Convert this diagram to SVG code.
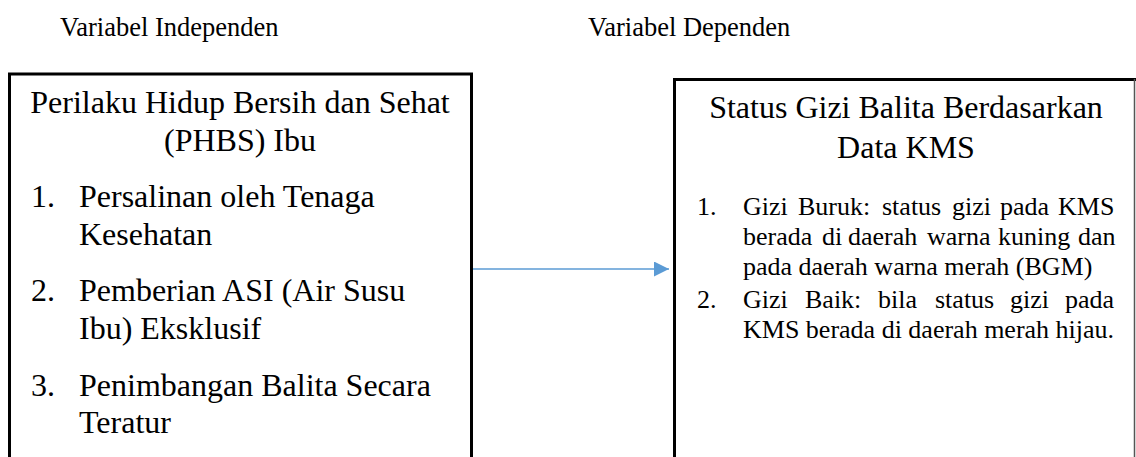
<svg xmlns="http://www.w3.org/2000/svg" width="1136" height="457" viewBox="0 0 1136 457">
<defs>
<style>
.box{fill:#fff;stroke:#000;stroke-width:3}
</style>
<marker id="ah" markerWidth="15" markerHeight="15" refX="15" refY="7.5" orient="auto" markerUnits="userSpaceOnUse">
<path d="M0,0 L15,7.5 L0,15 Z" fill="#5B9BD5"/>
</marker>
</defs>
<rect width="1136" height="457" fill="#fff"/>
<g id="headers">
<text font-family="Liberation Serif" font-size="26.5" x="60" y="36">Variabel Independen</text>
<text font-family="Liberation Serif" font-size="26.5" x="588" y="36">Variabel Dependen</text>
</g>
<g id="connectors">
<line x1="472" y1="269" x2="669" y2="269" stroke="#5B9BD5" stroke-width="1.5" marker-end="url(#ah)"/>
</g>
<g id="independen">
<path class="box" d="M9.5,460 V74 H471.5 V460"/>
<text font-family="Liberation Serif" font-size="32" x="240" y="113" text-anchor="middle">Perilaku Hidup Bersih dan Sehat</text>
<text font-family="Liberation Serif" font-size="32" x="240" y="151" text-anchor="middle">(PHBS) Ibu</text>
<text font-family="Liberation Serif" font-size="32" x="31" y="207">1.</text>
<text font-family="Liberation Serif" font-size="32" x="79" y="207">Persalinan oleh Tenaga</text>
<text font-family="Liberation Serif" font-size="32" x="79" y="245">Kesehatan</text>
<text font-family="Liberation Serif" font-size="32" x="31" y="301">2.</text>
<text font-family="Liberation Serif" font-size="32" x="79" y="301">Pemberian ASI (Air Susu</text>
<text font-family="Liberation Serif" font-size="32" x="79" y="339">Ibu) Eksklusif</text>
<text font-family="Liberation Serif" font-size="32" x="31" y="396">3.</text>
<text font-family="Liberation Serif" font-size="32" x="79" y="396">Penimbangan Balita Secara</text>
<text font-family="Liberation Serif" font-size="32" x="79" y="433">Teratur</text>
</g>
<g id="dependen">
<path class="box" d="M674.5,460 V79.5 H1136"/>
<line x1="1134.5" y1="79" x2="1134.5" y2="460" stroke="#555" stroke-width="1.5"/>
<text font-family="Liberation Serif" font-size="32" x="906" y="118" text-anchor="middle">Status Gizi Balita Berdasarkan</text>
<text font-family="Liberation Serif" font-size="32" x="906" y="158" text-anchor="middle">Data KMS</text>
<text font-family="Liberation Serif" font-size="26" x="697" y="215">1.</text>
<text font-family="Liberation Serif" font-size="26" y="215"><tspan x="743">Gizi</tspan><tspan x="798">Buruk:</tspan><tspan x="882">status</tspan><tspan x="952">gizi</tspan><tspan x="1000">pada</tspan><tspan x="1058">KMS</tspan></text>
<text font-family="Liberation Serif" font-size="26" y="245"><tspan x="743">berada</tspan><tspan x="822">di</tspan><tspan x="848">daerah</tspan><tspan x="927">warna</tspan><tspan x="998">kuning</tspan><tspan x="1078">dan</tspan></text>
<text font-family="Liberation Serif" font-size="26" x="743" y="275">pada daerah warna merah (BGM)</text>
<text font-family="Liberation Serif" font-size="26" x="697" y="308">2.</text>
<text font-family="Liberation Serif" font-size="26" y="308"><tspan x="743">Gizi</tspan><tspan x="805">Baik:</tspan><tspan x="878">bila</tspan><tspan x="935">status</tspan><tspan x="1010">gizi</tspan><tspan x="1065">pada</tspan></text>
<text font-family="Liberation Serif" font-size="26" x="743" y="338">KMS berada di daerah merah hijau.</text>
</g>
</svg>
